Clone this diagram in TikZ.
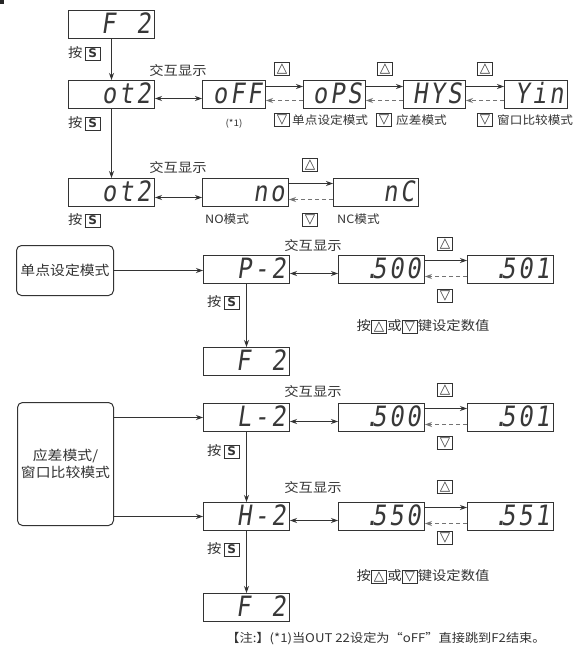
\documentclass[tikz,border=0pt]{standalone}
\usepackage{fontspec}
\setmainfont{Noto Sans CJK SC}[FakeStretch=1.1]
\newfontfamily\segfont{DejaVu Sans Mono}[FakeSlant=0.15,FakeStretch=0.85,LetterSpace=10]
\newfontfamily\symfont{DejaVu Sans}
\usetikzlibrary{arrows.meta}
\newcommand{\segdisp}{\segfont\fontsize{28}{28}\selectfont}
\newcommand{\kbox}[1]{{\setlength{\fboxsep}{1pt}\setlength{\fboxrule}{0.9pt}\fbox{\makebox[12.5pt]{\rule[-1.5pt]{0pt}{10.5pt}#1}}}}
\newcommand{\ku}{\kbox{\symfont\fontsize{13.5}{13}\selectfont\raisebox{0.3pt}{△}}}
\newcommand{\kd}{\kbox{\symfont\fontsize{13.5}{13}\selectfont\raisebox{0.3pt}{▽}}}
\newcommand{\ks}{\kbox{\symfont\bfseries\fontsize{12}{12}\selectfont S}}
\newcommand{\sgap}{\hspace{21pt}}
\begin{document}
\begin{tikzpicture}[x=1pt,y=-1pt,
  disp/.style={draw=black!80, line width=1pt, anchor=north west, inner xsep=4pt, inner ysep=0pt,
    text width=#1, align=right, font=\segdisp, text height=23pt, text depth=5pt, text=black!78},
  modebox/.style={draw=black!80, line width=1pt, rounded corners=5pt, anchor=north west, align=center,
    inner sep=0pt, text=black!80, font=\fontsize{13.5}{17}\selectfont},
  lbl/.style={text=black!80, inner sep=0pt, font=\fontsize{13}{13}\selectfont},
  small/.style={text=black!80, inner sep=0pt, font=\fontsize{11.5}{11.5}\selectfont},
  keyn/.style={inner sep=0pt, text=black!80},
  arr/.style={draw=black!80, line width=0.9pt, -{Stealth[length=7pt,width=5pt]}},
  darr/.style={draw=black!80, line width=0.9pt, {Stealth[length=7pt,width=5pt]}-{Stealth[length=7pt,width=5pt]}},
  dsh/.style={draw=black!55, line width=0.9pt, dash pattern=on 4pt off 3pt, -{Stealth[length=7pt,width=5pt]}}]
\useasboundingbox (0,0) rectangle (588,658);
\fill[white] (0,0) rectangle (588,658);
\fill[black!85] (0,0) rectangle (4,4);

% displays
\node[disp=78pt] (f2a) at (68,10) {F\sgap 2};
\node[disp=78pt] (ota) at (68,80) {ot2};
\node[disp=55pt] (off) at (202,80) {oFF};
\node[disp=54pt] (ops) at (303,80) {oPS};
\node[disp=54pt] (hys) at (403,80) {HYS};
\node[disp=55pt] (yin) at (504,80) {Yin};
\node[disp=78pt] (otb) at (68,178) {ot2};
\node[disp=78pt] (no) at (202,178) {no};
\node[disp=77pt] (nc) at (333,178) {nC};
\node[disp=78pt] (p2) at (203,255) {P-2};
\node[disp=78pt] (va) at (338,255) {.\kern-7pt500};
\node[disp=78pt] (vb) at (467,255) {.\kern-7pt501};
\node[disp=78pt] (f2b) at (203,347) {F\sgap 2};
\node[disp=78pt] (l2) at (203,403) {L-2};
\node[disp=78pt] (vc) at (338,403) {.\kern-7pt500};
\node[disp=78pt] (vd) at (467,403) {.\kern-7pt501};
\node[disp=78pt] (h2) at (203,502) {H-2};
\node[disp=78pt] (ve) at (338,502) {.\kern-7pt550};
\node[disp=78pt] (vf) at (467,502) {.\kern-7pt551};
\node[disp=78pt] (f2c) at (203,593) {F\sgap 2};

% mode boxes
\node[modebox, minimum width=97pt, minimum height=50pt] (single) at (16,245) {单点设定模式};
\node[modebox, minimum width=96pt, minimum height=123pt] (hw) at (17,402) {应差模式/\\窗口比较模式};

% press S labels
\node[lbl, anchor=east] (s1) at (101,54) {按\,\ks};
\node[lbl, anchor=east] (s2) at (101,124) {按\,\ks};
\node[lbl, anchor=east] (s3) at (101,221) {按\,\ks};
\node[lbl, anchor=east] (s4) at (240,303) {按\,\ks};
\node[lbl, anchor=east] (s5) at (240,452) {按\,\ks};
\node[lbl, anchor=east] (s6) at (240,550) {按\,\ks};

% alternate display labels
\node[lbl] (x1) at (178,71) {交互显示};
\node[lbl] (x2) at (178,168) {交互显示};
\node[lbl] (x3) at (313,246) {交互显示};
\node[lbl] (x4) at (313,392) {交互显示};
\node[lbl] (x5) at (313,488) {交互显示};
\node[keyn, font=\fontsize{9}{9}\selectfont] (n1) at (234,124) {(*1)};

% keys row 1
\node[keyn] (u1) at (282,69) {\ku};
\node[keyn] (u2) at (385,69) {\ku};
\node[keyn] (u3) at (485,69) {\ku};
\node[keyn] (d1) at (282,120) {\kd};
\node[keyn] (d2) at (384,120) {\kd};
\node[keyn] (d3) at (485,120) {\kd};
\node[small, anchor=west] (m1) at (292,120) {单点设定模式};
\node[small, anchor=west] (m2) at (396,120) {应差模式};
\node[small, anchor=west] (m3) at (497,120) {窗口比较模式};
% row 3
\node[keyn] (u4) at (310,165) {\ku};
\node[keyn] (d4) at (310,220) {\kd};
\node[small, anchor=west] (mno) at (205,219) {NO模式};
\node[small, anchor=west] (mnc) at (337,219) {NC模式};
% rows 4-6
\node[keyn] (u5) at (445,244) {\ku};
\node[keyn] (d5) at (445,296) {\kd};
\node[keyn] (u6) at (445,390) {\ku};
\node[keyn] (d6) at (445,443) {\kd};
\node[keyn] (u7) at (445,487) {\ku};
\node[keyn] (d7) at (445,538) {\kd};
\node[lbl] (h1) at (423,327) {按\ku 或\kd 键设定数值};
\node[lbl] (h2t) at (423,577) {按\ku 或\kd 键设定数值};

\node[lbl, font=\fontsize{12}{12}\selectfont] (note) at (386,639) {【注:】(*1)当OUT 22设定为“oFF”直接跳到F2结束。};

% connectors
\draw[arr] (f2a) -- (ota);
\draw[arr] (ota) -- (otb);
\draw[darr] ([yshift=-4pt]ota.east) -- ([yshift=-4pt]off.west);
\draw[arr] ([yshift=8pt]off.east) -- ([yshift=8pt]ops.west);
\draw[dsh] ([yshift=-6pt]ops.west) -- ([yshift=-6pt]off.east);
\draw[arr] ([yshift=8pt]ops.east) -- ([yshift=8pt]hys.west);
\draw[dsh] ([yshift=-6pt]hys.west) -- ([yshift=-6pt]ops.east);
\draw[arr] ([yshift=8pt]hys.east) -- ([yshift=8pt]yin.west);
\draw[dsh] ([yshift=-6pt]yin.west) -- ([yshift=-6pt]hys.east);

\draw[darr] ([yshift=-5pt]otb.east) -- ([yshift=-5pt]no.west);
\draw[arr] ([yshift=9pt]no.east) -- ([yshift=9pt]nc.west);
\draw[dsh] ([yshift=-7pt]nc.west) -- ([yshift=-7pt]no.east);

\draw[arr] (single.east) -- (single.east -| p2.west);
\draw[darr] ([yshift=-4pt]p2.east) -- ([yshift=-4pt]va.west);
\draw[arr] ([yshift=9pt]va.east) -- ([yshift=9pt]vb.west);
\draw[dsh] ([yshift=-7pt]vb.west) -- ([yshift=-7pt]va.east);
\draw[arr] (p2) -- (f2b);

\draw[arr] (hw.east |- l2.west) -- (l2.west);
\draw[arr] (hw.east |- h2.west) -- (h2.west);
\draw[darr] ([yshift=-4pt]l2.east) -- ([yshift=-4pt]vc.west);
\draw[arr] ([yshift=9pt]vc.east) -- ([yshift=9pt]vd.west);
\draw[dsh] ([yshift=-7pt]vd.west) -- ([yshift=-7pt]vc.east);
\draw[arr] (l2) -- (h2);

\draw[darr] ([yshift=-4pt]h2.east) -- ([yshift=-4pt]ve.west);
\draw[arr] ([yshift=9pt]ve.east) -- ([yshift=9pt]vf.west);
\draw[dsh] ([yshift=-7pt]vf.west) -- ([yshift=-7pt]ve.east);
\draw[arr] (h2) -- (f2c);
\end{tikzpicture}
\end{document}
